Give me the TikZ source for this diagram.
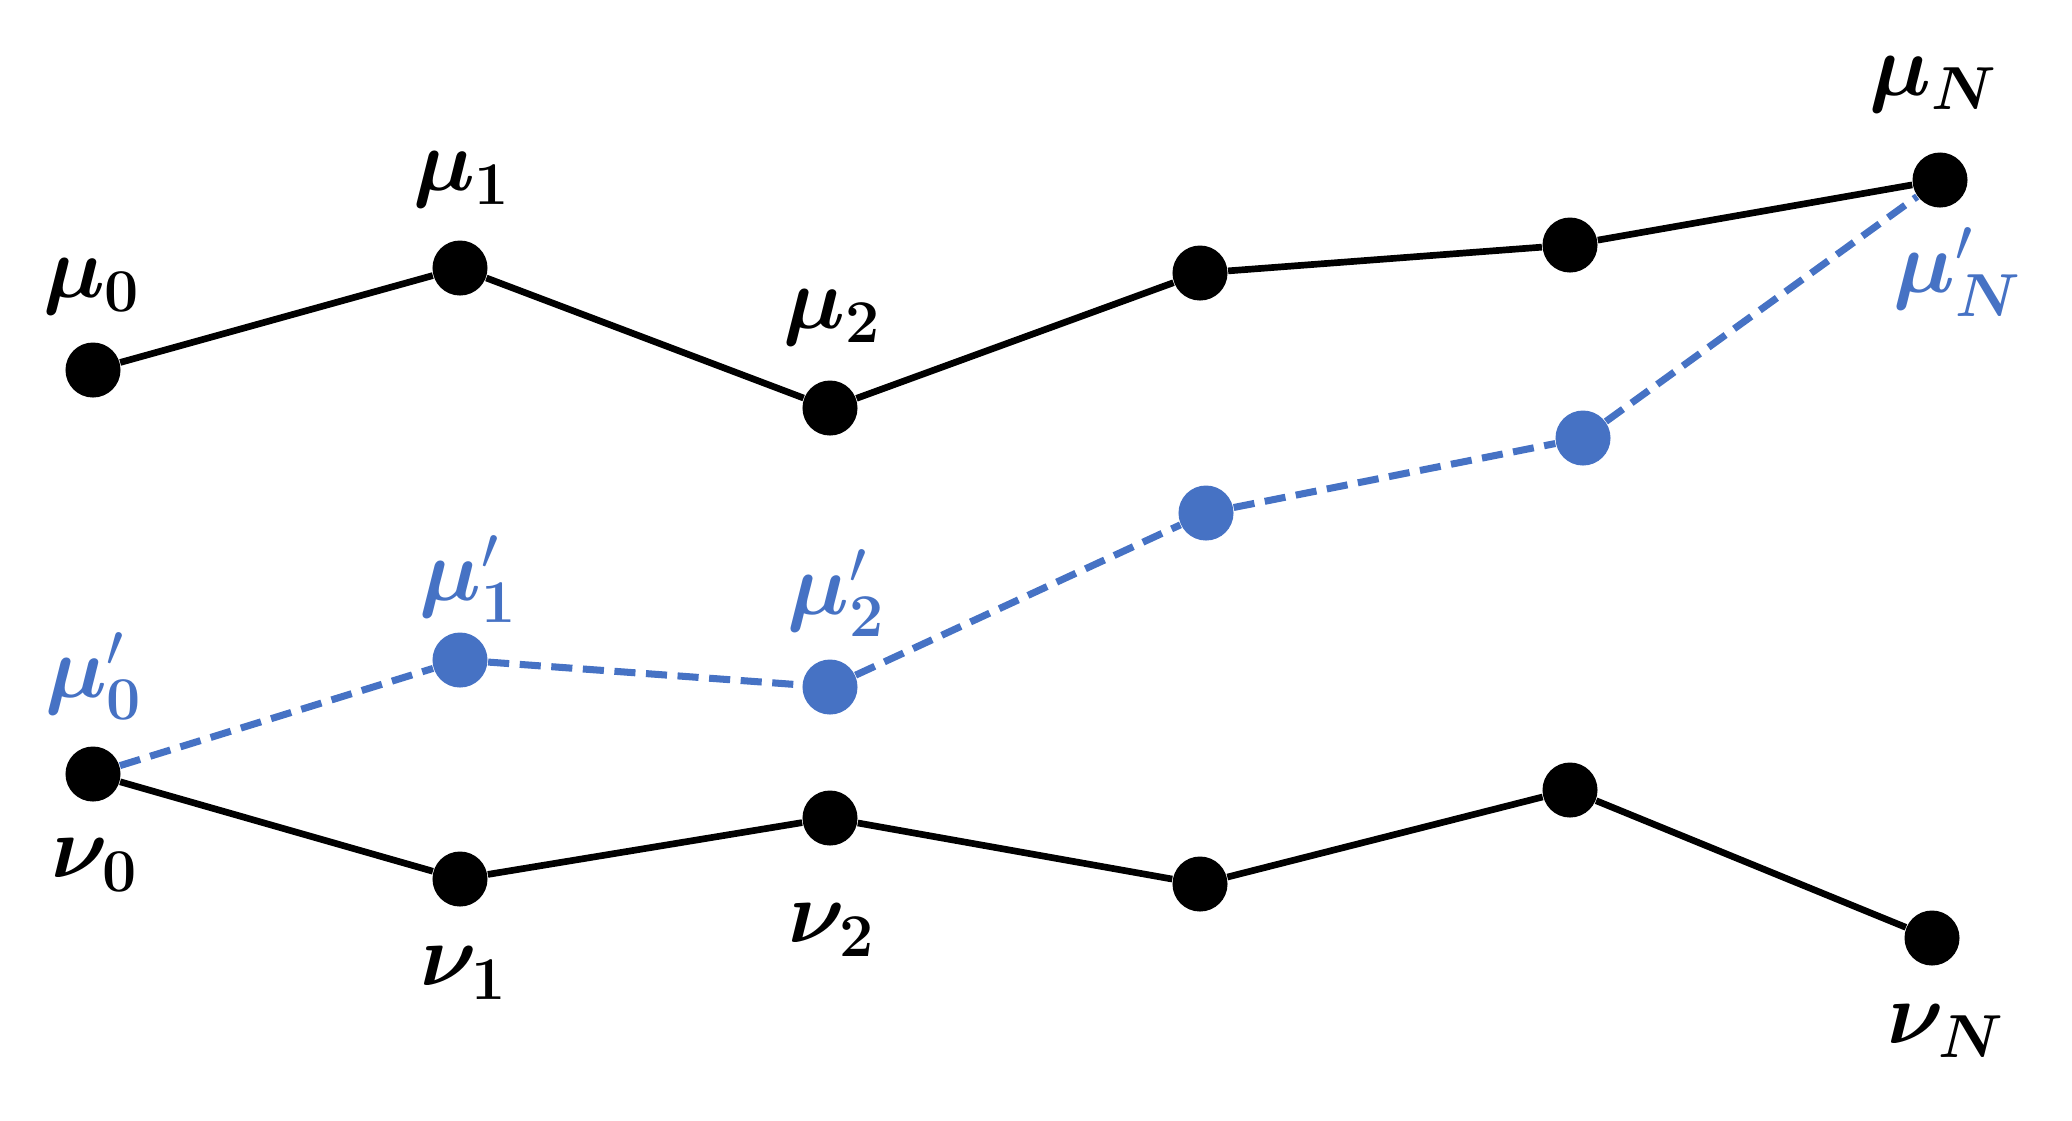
\documentclass[tikz,border=0pt]{standalone}
\usepackage{amsmath}
\usepackage{bm}
\usepackage{xcolor}
\usetikzlibrary{positioning}
\definecolor{pathblue}{RGB}{70,114,196}

\begin{document}
\begin{tikzpicture}[
  x=0.01cm, y=-0.01cm,
  dot/.style={circle, fill=black, inner sep=0pt, minimum size=0.55cm},
  bluedot/.style={dot, fill=pathblue},
  seg/.style={line width=1.9pt},
  blueseg/.style={line width=2pt, pathblue, dash pattern=on 6pt off 3pt},
  lbl/.style={font=\fontsize{23}{27}\selectfont, inner sep=0pt},
  bluelbl/.style={lbl, text=pathblue}
]
\useasboundingbox (0,0) rectangle (2072,1120);

% upper path
\node[dot] (mu0) at (93,370) {};
\node[dot] (mu1) at (460,268) {};
\node[dot] (mu2) at (830,408) {};
\node[dot] (mu3) at (1200,273) {};
\node[dot] (mu4) at (1570,245) {};
\node[dot] (muN) at (1940,180) {};

% lower path
\node[dot] (nu0) at (93,774) {};
\node[dot] (nu1) at (460,879) {};
\node[dot] (nu2) at (830,818) {};
\node[dot] (nu3) at (1200,884) {};
\node[dot] (nu4) at (1570,790) {};
\node[dot] (nuN) at (1932,938) {};

% shifted path
\node[bluedot] (mp1) at (460,660) {};
\node[bluedot] (mp2) at (830,687) {};
\node[bluedot] (mp3) at (1206,513) {};
\node[bluedot] (mp4) at (1583,438) {};

\draw[seg] (mu0) -- (mu1) -- (mu2) -- (mu3) -- (mu4) -- (muN);
\draw[seg] (nu0) -- (nu1) -- (nu2) -- (nu3) -- (nu4) -- (nuN);
\draw[blueseg] (nu0) -- (mp1) -- (mp2) -- (mp3) -- (mp4) -- (muN);

% labels
\node[lbl] (lmu0) at (92,287) {$\bm{\mu}_{\bm{0}}$};
\node[lbl] (lmu1) at (462,180) {$\bm{\mu}_{\bm{1}}$};
\node[lbl] (lmu2) at (832,318) {$\bm{\mu}_{\bm{2}}$};
\node[lbl] (lmuN) at (1934,85) {$\bm{\mu}_{\bm{N}}$};

\node[bluelbl] (lmp0) at (94,676) {$\bm{\mu}'_{\bm{0}}$};
\node[bluelbl] (lmp1) at (468,579) {$\bm{\mu}'_{\bm{1}}$};
\node[bluelbl] (lmp2) at (836,593) {$\bm{\mu}'_{\bm{2}}$};
\node[bluelbl] (lmpN) at (1958,272) {$\bm{\mu}'_{\bm{N}}$};

\node[lbl] (lnu0) at (95,865) {$\bm{\nu}_{\bm{0}}$};
\node[lbl] (lnu1) at (464,973) {$\bm{\nu}_{\bm{1}}$};
\node[lbl] (lnu2) at (832,930) {$\bm{\nu}_{\bm{2}}$};
\node[lbl] (lnuN) at (1946,1031) {$\bm{\nu}_{\bm{N}}$};

\end{tikzpicture}
\end{document}
